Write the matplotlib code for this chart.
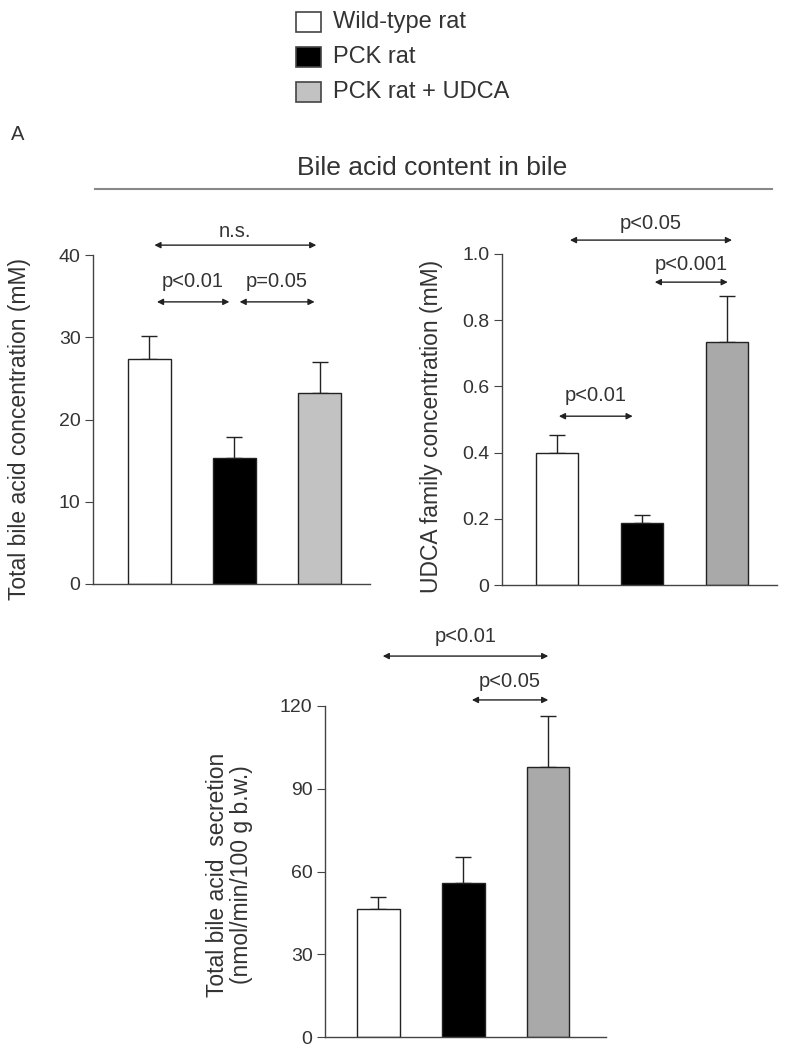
import matplotlib.pyplot as plt
import numpy as np

# data
groups     = ["Wild-type rat", "PCK rat", "PCK rat + UDCA"]
total_conc = [27.4, 15.3, 23.2]
total_err  = [2.8, 2.6, 3.8]
udca_conc  = [0.399, 0.187, 0.734]
udca_err   = [0.054, 0.024, 0.139]
secretion  = [46.4, 55.8, 97.9]
secr_err   = [4.4, 9.5, 18.5]

W, H = 789, 1050
txt = '#333333'
plt.rcParams['font.family'] = ['Liberation Sans', 'DejaVu Sans']

fig = plt.figure(figsize=(W/100, H/100), dpi=100)


def px_axes(x0, x1, y_top, y_bot):
  return fig.add_axes([x0/W, 1 - y_bot/H, (x1 - x0)/W, (y_bot - y_top)/H])


def bar_panel(ax, vals, errs, colors, ylim, yticks, yticklabels, xlim):
  x = np.arange(len(vals))
  ax.bar(x, vals, width=0.5, color=colors, edgecolor='#222222', linewidth=1.0, zorder=2)
  ax.errorbar(x, vals, yerr=[np.zeros(len(errs)), errs], fmt='none',
              ecolor='#222222', elinewidth=1.0, capsize=6, capthick=1.0, zorder=1)
  ax.set_xlim(*xlim)
  ax.set_ylim(*ylim)
  ax.set_yticks(yticks)
  ax.set_yticklabels(yticklabels)
  ax.set_xticks([])
  for s in ['top', 'right']:
    ax.spines[s].set_visible(False)
  for s in ['left', 'bottom']:
    ax.spines[s].set_color('#444444')
    ax.spines[s].set_linewidth(1.0)
  ax.tick_params(axis='y', direction='out', length=6, color='#444444',
                 labelsize=14, labelcolor=txt, pad=3)


def sig(ax, x0, x1, y, label, ty):
  ax.annotate('', xy=(x0, y), xytext=(x1, y),
              arrowprops=dict(arrowstyle='<|-|>', color='#222222', lw=1.0,
                              mutation_scale=9, shrinkA=0, shrinkB=0),
              annotation_clip=False)
  ax.text((x0 + x1)/2, ty, label, ha='center', va='center', fontsize=14.5,
          color=txt, clip_on=False)


# panel 1
ax1 = px_axes(93, 370, 255, 584)
bar_panel(ax1, total_conc, total_err, ['white', 'black', '#c2c2c2'],
          (0, 40), [0, 10, 20, 30, 40], ['0', '10', '20', '30', '40'], (-0.66, 2.59))
ax1.set_ylabel('Total bile acid concentration (mM)', fontsize=16.5, color=txt)
ax1.yaxis.set_label_coords((31 - 93)/277, 0.47)
sig(ax1, 0.06, 1.96, 41.2, 'n.s.', 42.8)
sig(ax1, 0.09, 0.94, 34.3, 'p<0.01', 36.8)
sig(ax1, 1.06, 1.94, 34.3, 'p=0.05', 36.8)

# panel 2
ax2 = px_axes(502, 777, 254, 585)
bar_panel(ax2, udca_conc, udca_err, ['white', 'black', '#a9a9a9'],
          (0, 1.0), [0, 0.2, 0.4, 0.6, 0.8, 1.0], ['0', '0.2', '0.4', '0.6', '0.8', '1.0'],
          (-0.65, 2.59))
ax2.set_ylabel('UDCA family concentration (mM)', fontsize=16.5, color=txt)
ax2.yaxis.set_label_coords((443 - 502)/275, 0.48)
sig(ax2, 0.15, 2.06, 1.042, 'p<0.05', 1.093)
sig(ax2, 1.15, 2.01, 0.915, 'p<0.001', 0.968)
sig(ax2, 0.02, 0.89, 0.51, 'p<0.01', 0.572)

# panel 3
ax3 = px_axes(325, 606, 706, 1037)
bar_panel(ax3, secretion, secr_err, ['white', 'black', '#a9a9a9'],
          (0, 120), [0, 30, 60, 90, 120], ['0', '30', '60', '90', '120'], (-0.63, 2.68))
ax3.set_ylabel('Total bile acid  secretion\n(nmol/min/100 g b.w.)', fontsize=16.5,
               color=txt, linespacing=1.05)
ax3.yaxis.set_label_coords((253 - 325)/281, 0.49)
sig(ax3, 0.05, 2.0, 138.1, 'p<0.01', 145.2)
sig(ax3, 1.1, 2.0, 122.2, 'p<0.05', 128.8)

# legend
leg_colors = ['white', 'black', '#c2c2c2']
leg_y = [22, 57, 92]
for g, c, y in zip(groups, leg_colors, leg_y):
  fig.patches.append(plt.Rectangle((296/W, 1 - (y + 10)/H), 25/W, 20/H,
                                   transform=fig.transFigure, facecolor=c,
                                   edgecolor='#444444', linewidth=1.2))
  fig.text(333/W, 1 - y/H, g, fontsize=17, color=txt, va='center', ha='left')

fig.text(11/W, 1 - 135/H, 'A', fontsize=14.5, color=txt, va='center', ha='left')
fig.text(432/W, 1 - 168/H, 'Bile acid content in bile', fontsize=19, color=txt,
         va='center', ha='center')
fig.add_artist(plt.Line2D([95/W, 772/W], [1 - 189/H, 1 - 189/H], color='#888888', lw=1.5))

fig.savefig('out.png', dpi=100)
